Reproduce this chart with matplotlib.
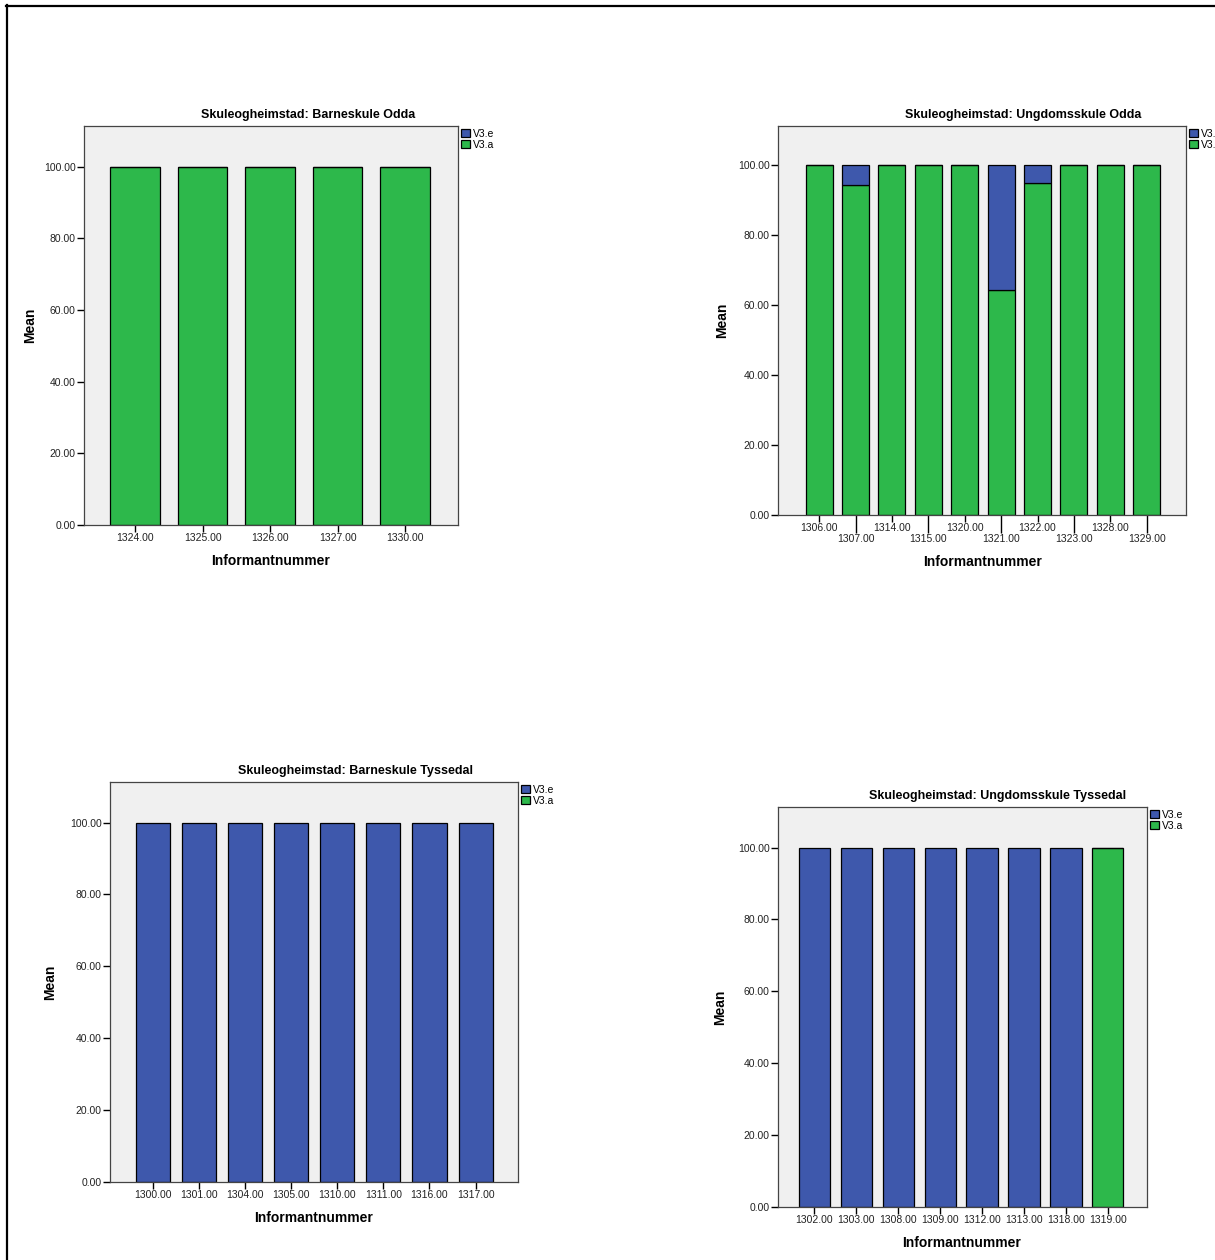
import matplotlib
matplotlib.use('Agg')
import matplotlib.pyplot as plt
from matplotlib.lines import Line2D
import numpy as np

plt.rcParams['font.family'] = ['Liberation Sans', 'DejaVu Sans']

W, H = 1215, 1260

GREEN = '#2db84b'
BLUE = '#3e58ac'
BG = '#f0f0f0'

# data
ids_bo = ['1324.00', '1325.00', '1326.00', '1327.00', '1330.00']
a_bo = [100, 100, 100, 100, 100]
e_bo = [0, 0, 0, 0, 0]

ids_uo = ['1306.00', '1307.00', '1314.00', '1315.00', '1320.00',
          '1321.00', '1322.00', '1323.00', '1328.00', '1329.00']
a_uo = [100, 94.3, 100, 100, 100, 64.3, 95.1, 100, 100, 100]
e_uo = [0, 5.7, 0, 0, 0, 35.7, 4.9, 0, 0, 0]

ids_bt = ['1300.00', '1301.00', '1304.00', '1305.00',
          '1310.00', '1311.00', '1316.00', '1317.00']
a_bt = [0, 0, 0, 0, 0, 0, 0, 0]
e_bt = [100, 100, 100, 100, 100, 100, 100, 100]

ids_ut = ['1302.00', '1303.00', '1308.00', '1309.00',
          '1312.00', '1313.00', '1318.00', '1319.00']
a_ut = [0, 0, 0, 0, 0, 0, 0, 100]
e_ut = [100, 100, 100, 100, 100, 100, 100, 0]


def px(x, y):
    return x / W, 1 - y / H


def panel(fig, box, ids, a, e, title, title_xy, ylab_xy, xlab_xy, xlim, stagger=False):
    l, t, r, b = box
    ax = fig.add_axes([l / W, 1 - b / H, (r - l) / W, (b - t) / H])
    ax.set_facecolor(BG)
    x = np.arange(len(ids))
    ax.bar(x, a, width=0.74, color=GREEN, edgecolor='black', linewidth=0.9, label='V3.a')
    ax.bar(x, e, width=0.74, bottom=a, color=BLUE, edgecolor='black', linewidth=0.9, label='V3.e')
    ax.set_xlim(*xlim)
    ax.set_ylim(0, 111.3)
    ax.set_yticks(range(0, 101, 20))
    ax.set_yticklabels(['%.2f' % v for v in range(0, 101, 20)])
    if stagger:
        ax.set_xticks(x[::2], [ids[i] for i in x[::2]])
        ax.set_xticks(x[1::2], [ids[i] for i in x[1::2]], minor=True)
        ax.tick_params(axis='x', which='minor', length=13, width=1, pad=1,
                       labelsize=7.5, labelcolor='#222')
    else:
        ax.set_xticks(x, ids)
    ax.tick_params(which='major', length=5, width=1, pad=1, labelsize=7.5, labelcolor='#222')
    for s in ax.spines.values():
        s.set_color('#444')
        s.set_linewidth(0.9)
    h, lb = ax.get_legend_handles_labels()
    ax.legend(h[::-1], lb[::-1], loc='upper left', bbox_to_anchor=(1.0, 1.0),
              frameon=False, fontsize=7.5, handlelength=0.9, handleheight=0.9,
              handletextpad=0.25, borderaxespad=0.15, labelspacing=0.1, borderpad=0.1)
    fig.text(*px(*title_xy), title, ha='center', va='center', fontsize=9, fontweight='bold')
    fig.text(*px(*ylab_xy), 'Mean', ha='center', va='center', rotation=90,
             fontsize=10, fontweight='bold')
    fig.text(*px(*xlab_xy), 'Informantnummer', ha='center', va='center',
             fontsize=10, fontweight='bold')
    return ax


fig = plt.figure(figsize=(W / 100, H / 100), dpi=100)

panel(fig, (84, 126, 458, 525), ids_bo, a_bo, e_bo,
      'Skuleogheimstad: Barneskule Odda', (308, 115), (30, 325), (271, 561),
      (-0.756, 4.785))
panel(fig, (778, 126, 1186, 515), ids_uo, a_uo, e_uo,
      'Skuleogheimstad: Ungdomsskule Odda', (1023, 115), (722, 320), (983, 562),
      (-1.13, 10.08), stagger=True)
panel(fig, (110, 782, 518, 1182), ids_bt, a_bt, e_bt,
      'Skuleogheimstad: Barneskule Tyssedal', (355, 771), (50, 982), (314, 1218),
      (-0.93, 7.92))
panel(fig, (778, 807, 1147, 1207), ids_ut, a_ut, e_ut,
      'Skuleogheimstad: Ungdomsskule Tyssedal', (998, 796), (720, 1007), (962, 1243),
      (-0.86, 7.93))

# frame lines of the original page
fig.add_artist(Line2D([6 / W, 1], [1 - 5.5 / H, 1 - 5.5 / H], color='black', linewidth=1.6))
fig.add_artist(Line2D([6.5 / W, 6.5 / W], [0, 1 - 5 / H], color='black', linewidth=1.6))

fig.savefig('out.png', dpi=100)
